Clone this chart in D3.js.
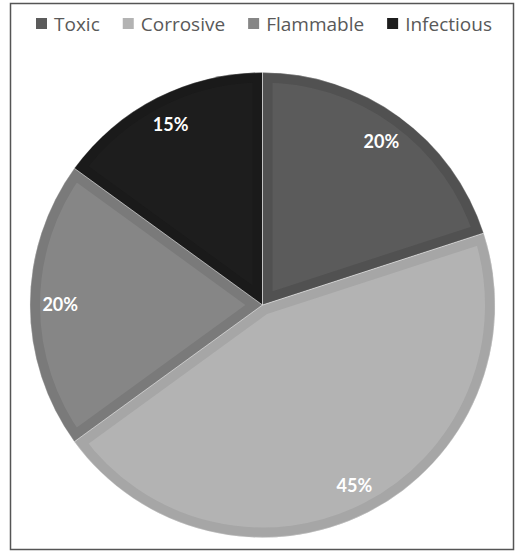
<!DOCTYPE html>
<html>
<head>
<meta charset="utf-8">
<script src="https://cdn.jsdelivr.net/npm/d3@7"></script>
<style>
  body { margin: 0; background: #fff; }
  svg { display: block; }
</style>
</head>
<body>
<svg id="chart" width="516" height="552"></svg>
<script>
// Data
const categories = ['Toxic', 'Corrosive', 'Flammable', 'Infectious'];
const values = [20, 45, 20, 15];
const fillColors = ['#5b5b5b', '#b3b3b3', '#868686', '#1d1d1d'];
const edgeColors = ['#515151', '#a6a6a6', '#7a7a7a', '#1a1a1a'];

const width = 516, height = 552;
const cx = 262.5, cy = 305, radius = 232.5;
const fontFam = 'Lato, "Open Sans", sans-serif';

const svg = d3.select('#chart');

// outer frame
svg.append('rect')
    .attr('x', 10.5).attr('y', 3.5)
    .attr('width', 503).attr('height', 546)
    .attr('fill', 'none')
    .attr('stroke', '#555')
    .attr('stroke-width', 1.5);

let pieData = categories.map((c, i) => ({ label: c, value: values[i], idx: i }));
let pie = d3.pie().value(d => d.value).sort(null);
let arcs = pie(pieData);
let arcGen = d3.arc().innerRadius(0).outerRadius(radius);
let labelArc = d3.arc().innerRadius(radius * 0.87).outerRadius(radius * 0.87);

let defs = svg.append('defs');
let g = svg.append('g').attr('transform', `translate(${cx},${cy})`);

// slices with a darker inner edge band
arcs.forEach((d, i) => {
    defs.append('clipPath').attr('id', 'clip' + i)
        .append('path').attr('d', arcGen(d));
    g.append('path')
        .attr('d', arcGen(d))
        .attr('fill', fillColors[i])
        .attr('stroke', edgeColors[i])
        .attr('stroke-width', 20)
        .attr('clip-path', `url(#clip${i})`);
});

// thin light separators
g.selectAll('path.sep')
    .data(arcs)
    .join('path')
    .attr('class', 'sep')
    .attr('d', arcGen)
    .attr('fill', 'none')
    .attr('stroke', '#ececec')
    .attr('stroke-opacity', 0.6)
    .attr('stroke-width', 0.6);

// percentage labels
g.selectAll('text.lbl')
    .data(arcs)
    .join('text')
    .attr('class', 'lbl')
    .attr('transform', d => `translate(${labelArc.centroid(d)})`)
    .attr('text-anchor', 'middle')
    .attr('dy', '0.36em')
    .attr('fill', '#fff')
    .attr('font-family', fontFam)
    .attr('font-weight', 'bold')
    .attr('font-size', 18)
    .text(d => d.data.value + '%');

// legend
let legend = svg.append('g').attr('transform', 'translate(0,24)');
let x = 36;
categories.forEach((c, i) => {
    let item = legend.append('g').attr('transform', `translate(${x},0)`);
    item.append('rect')
        .attr('x', 0).attr('y', -6)
        .attr('width', 11).attr('height', 11)
        .attr('fill', fillColors[i]);
    let t = item.append('text')
        .attr('x', 18).attr('y', 0)
        .attr('dy', '0.35em')
        .attr('fill', '#595959')
        .attr('font-family', '"Open Sans", sans-serif')
        .attr('font-size', 19)
        .text(c);
    x += 18 + t.node().getComputedTextLength() + 23;
});
</script>
</body>
</html>
